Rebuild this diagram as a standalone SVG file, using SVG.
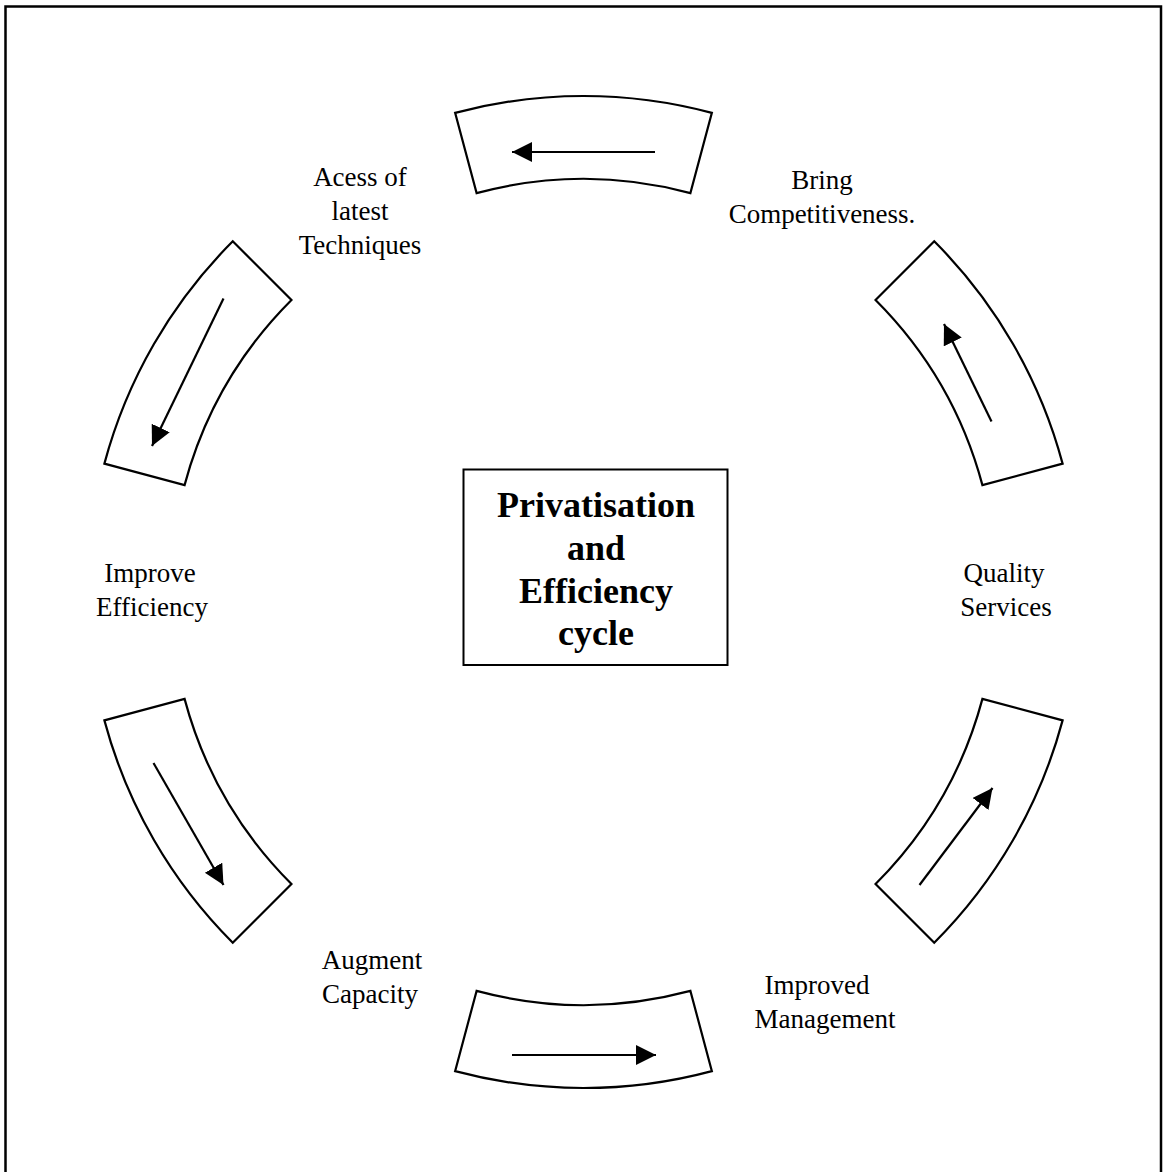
<svg xmlns="http://www.w3.org/2000/svg" width="1165" height="1172" viewBox="0 0 1165 1172">
<style>
.seg{fill:none;stroke:#000;stroke-width:2.2;stroke-linejoin:miter}
.arr{stroke:#000;stroke-width:2.2;fill:none;marker-end:url(#ah)}
.lbl{font-family:"Liberation Serif","Times New Roman",serif;font-size:27px;fill:#000;text-anchor:middle}
.ttl{font-family:"Liberation Serif","Times New Roman",serif;font-size:36px;font-weight:bold;fill:#000;text-anchor:middle}
</style>
<defs>
<marker id="ah" markerUnits="userSpaceOnUse" markerWidth="22" markerHeight="22" refX="20" refY="10" orient="auto" viewBox="0 0 22 22">
<path d="M0,0 L20,10 L0,20 Z" fill="#000"/>
</marker>
<path id="segshape" d="M -128.37,-479.10 A 496 496 0 0 1 128.37,-479.10 L 106.89,-398.93 A 413 413 0 0 0 -106.89,-398.93 Z"/>
</defs>
<rect width="1165" height="1172" fill="#fff"/>
<rect x="5.5" y="6.5" width="1155.5" height="1180" fill="none" stroke="#000" stroke-width="2.5"/>

<g id="segments">
<g id="seg-top"><use href="#segshape" class="seg" transform="translate(583.5,592) rotate(0)"/></g>
<g id="seg-upper-right"><use href="#segshape" class="seg" transform="translate(583.5,592) rotate(60)"/></g>
<g id="seg-lower-right"><use href="#segshape" class="seg" transform="translate(583.5,592) rotate(120)"/></g>
<g id="seg-bottom"><use href="#segshape" class="seg" transform="translate(583.5,592) rotate(180)"/></g>
<g id="seg-lower-left"><use href="#segshape" class="seg" transform="translate(583.5,592) rotate(240)"/></g>
<g id="seg-upper-left"><use href="#segshape" class="seg" transform="translate(583.5,592) rotate(300)"/></g>
</g>

<g id="connectors">
<line class="arr" x1="655" y1="152" x2="512" y2="152"/>
<line class="arr" x1="991.5" y1="421.5" x2="944" y2="324"/>
<line class="arr" x1="919.5" y1="885" x2="992.5" y2="788"/>
<line class="arr" x1="512" y1="1055" x2="656" y2="1055"/>
<line class="arr" x1="153.5" y1="763" x2="223.5" y2="885"/>
<line class="arr" x1="223.5" y1="298.5" x2="152" y2="446"/>
</g>

<g id="center">
<rect x="463.5" y="469.5" width="264" height="195.5" fill="none" stroke="#000" stroke-width="2"/>
<text class="ttl" x="596" y="517">Privatisation</text>
<text class="ttl" x="596" y="560">and</text>
<text class="ttl" x="596" y="603">Efficiency</text>
<text class="ttl" x="596" y="645">cycle</text>
</g>

<g id="node-access">
<text class="lbl" x="360" y="186">Acess of</text>
<text class="lbl" x="360" y="220">latest</text>
<text class="lbl" x="360" y="254">Techniques</text>
</g>
<g id="node-bring">
<text class="lbl" x="822" y="189">Bring</text>
<text class="lbl" x="822" y="223">Competitiveness.</text>
</g>
<g id="node-quality">
<text class="lbl" x="1004" y="582">Quality</text>
<text class="lbl" x="1006" y="616">Services</text>
</g>
<g id="node-improved">
<text class="lbl" x="817" y="994">Improved</text>
<text class="lbl" x="825" y="1028">Management</text>
</g>
<g id="node-augment">
<text class="lbl" x="372" y="969">Augment</text>
<text class="lbl" x="370" y="1003">Capacity</text>
</g>
<g id="node-improve">
<text class="lbl" x="150" y="582">Improve</text>
<text class="lbl" x="152" y="616">Efficiency</text>
</g>
</svg>
